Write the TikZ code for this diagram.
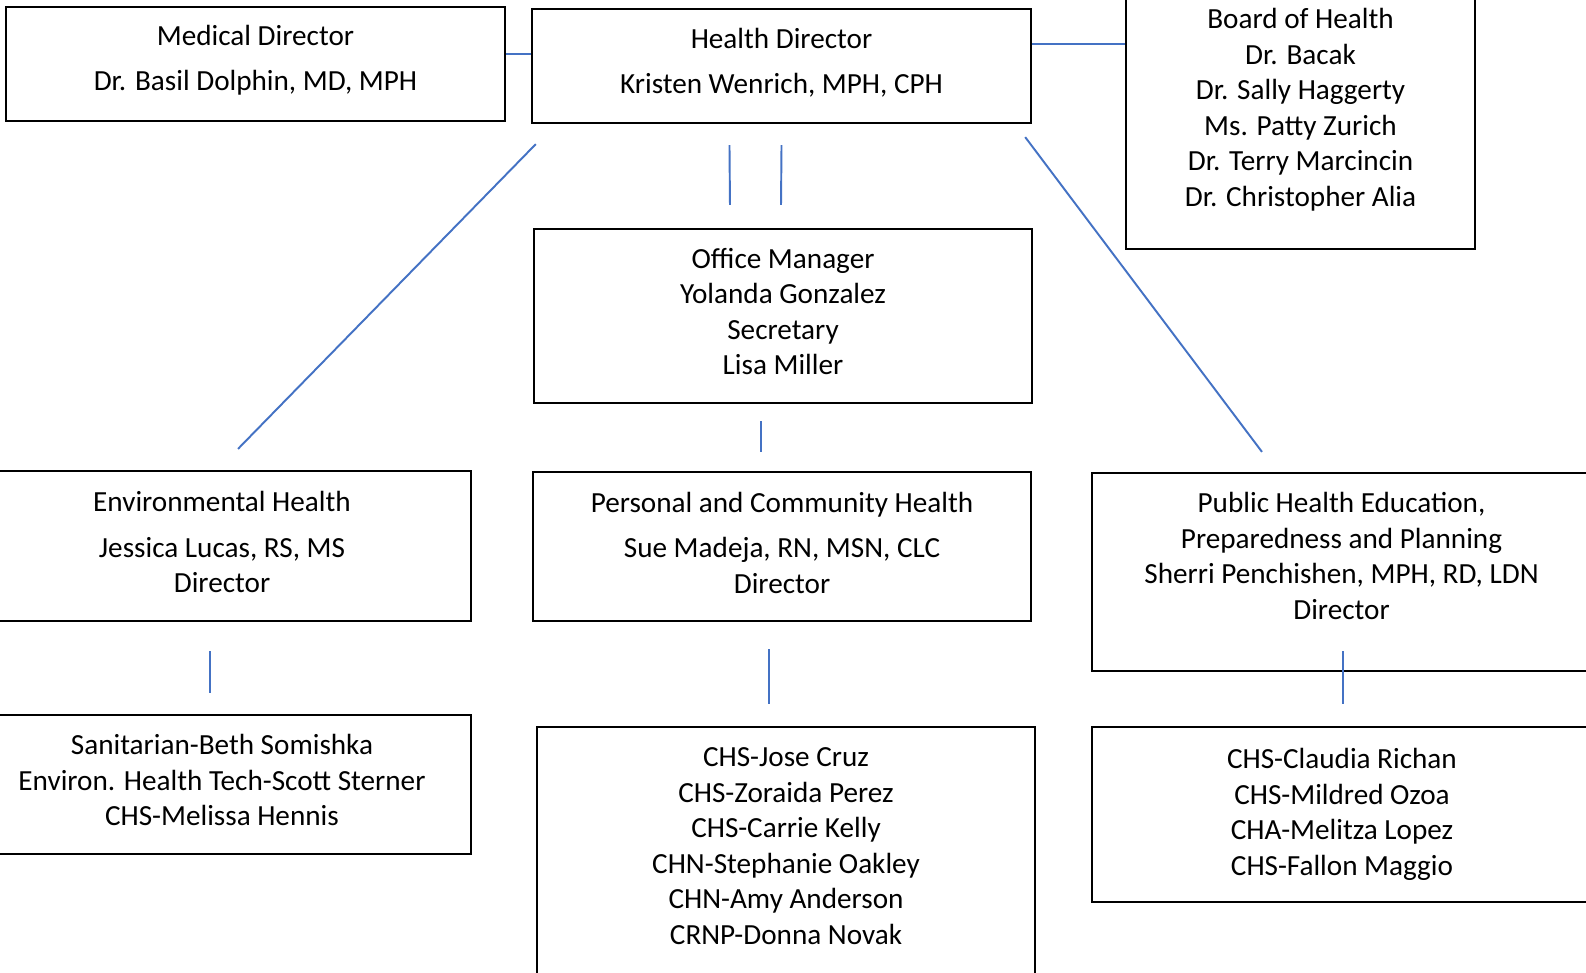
\documentclass[tikz,border=0pt]{standalone}
\usepackage{fontspec}
\setmainfont{Carlito}
\definecolor{linkblue}{RGB}{68,114,196}
\newcommand{\lowpad}[1]{\rule[-#1]{0pt}{#1}}

\begin{document}
\begin{tikzpicture}[
    x=0.01cm, y=-0.01cm,
    box/.style={draw, line width=0.6pt, align=center, inner sep=0pt,
        font=\fontsize{8.3}{10.1}\selectfont},
    link/.style={draw=linkblue, line width=0.55pt}
]

% Page frame
\clip (0,0) rectangle (1586,972);
\fill[white] (0,0) rectangle (1586,972);

% Top row
\node[box, minimum width=4.99cm, minimum height=1.14cm] (med) at (255.5,64)
    {Medical Director\\[0.1cm] Dr. Basil Dolphin, MD, MPH\lowpad{0.12cm}};
\node[box, minimum width=4.99cm, minimum height=1.14cm] (hd) at (781.5,66)
    {Health Director\\[0.1cm] Kristen Wenrich, MPH, CPH\lowpad{0.1cm}};
\node[box, minimum width=3.49cm, minimum height=2.79cm] (board) at (1300.5,109.5)
    {Board of Health\\Dr. Bacak\\Dr. Sally Haggerty\\Ms. Patty Zurich\\Dr. Terry Marcincin\\Dr. Christopher Alia};
\node[box, minimum width=4.98cm, minimum height=1.74cm] (om) at (783,316)
    {Office Manager\\Yolanda Gonzalez\\Secretary\\Lisa Miller\lowpad{0.09cm}};

% Divisions
\node[box, minimum width=4.98cm, minimum height=1.50cm] (env) at (222,546)
    {Environmental Health\\[0.1cm] Jessica Lucas, RS, MS\\Director\lowpad{0.08cm}};
\node[box, minimum width=4.98cm, minimum height=1.49cm] (pc) at (782,546.5)
    {Personal and Community Health\\[0.1cm] Sue Madeja, RN, MSN, CLC\\Director\lowpad{0.08cm}};
\node[box, minimum width=4.99cm, minimum height=1.98cm] (phe) at (1341.5,572)
    {Public Health Education,\\Preparedness and Planning\\Sherri Penchishen, MPH, RD, LDN\\Director\lowpad{0.32cm}};

% Staff
\node[box, minimum width=4.98cm, minimum height=1.39cm] (san) at (222,784.5)
    {Sanitarian-Beth Somishka\\Environ. Health Tech-Scott Sterner\\CHS-Melissa Hennis\lowpad{0.09cm}};
\node[box, minimum width=4.98cm, minimum height=2.73cm] (jose) at (786,863.5)
    {CHS-Jose Cruz\\CHS-Zoraida Perez\\CHS-Carrie Kelly\\CHN-Stephanie Oakley\\CHN-Amy Anderson\\CRNP-Donna Novak\lowpad{0.35cm}};
\node[box, minimum width=5.00cm, minimum height=1.75cm] (cla) at (1342,814.5)
    {CHS-Claudia Richan\\CHS-Mildred Ozoa\\CHA-Melitza Lopez\\CHS-Fallon Maggio};

% Connectors
\draw[link] (med.east |- 0,54) -- (hd.west |- 0,54);
\draw[link] (hd.east |- 0,44) -- (board.west |- 0,44);
\draw[link] ([xshift=-0.52cm,yshift=-0.21cm]hd.south) -- ([xshift=-0.53cm,yshift=0.23cm]om.north);
\draw[link] ([yshift=-0.21cm]hd.south) -- ([xshift=-0.02cm,yshift=0.23cm]om.north);
\draw[link] ([xshift=0.05cm,yshift=-0.2cm]hd.south west) -- ([xshift=0.16cm,yshift=0.21cm]env.north);
\draw[link] ([xshift=-0.07cm,yshift=-0.13cm]hd.south east) -- ([xshift=-0.795cm,yshift=0.2cm]phe.north);
\draw[link] ([xshift=-0.22cm,yshift=-0.17cm]om.south) -- ([xshift=-0.21cm,yshift=0.19cm]pc.north);
\draw[link] ([xshift=-0.12cm,yshift=-0.29cm]env.south) -- ([xshift=-0.12cm,yshift=0.21cm]san.north);
\draw[link] ([xshift=-0.13cm,yshift=-0.27cm]pc.south) -- ([xshift=-0.17cm,yshift=0.22cm]jose.north);
\draw[link] ([xshift=0.015cm,yshift=0.21cm]phe.south) -- ([xshift=0.01cm,yshift=0.22cm]cla.north);

\end{tikzpicture}
\end{document}
